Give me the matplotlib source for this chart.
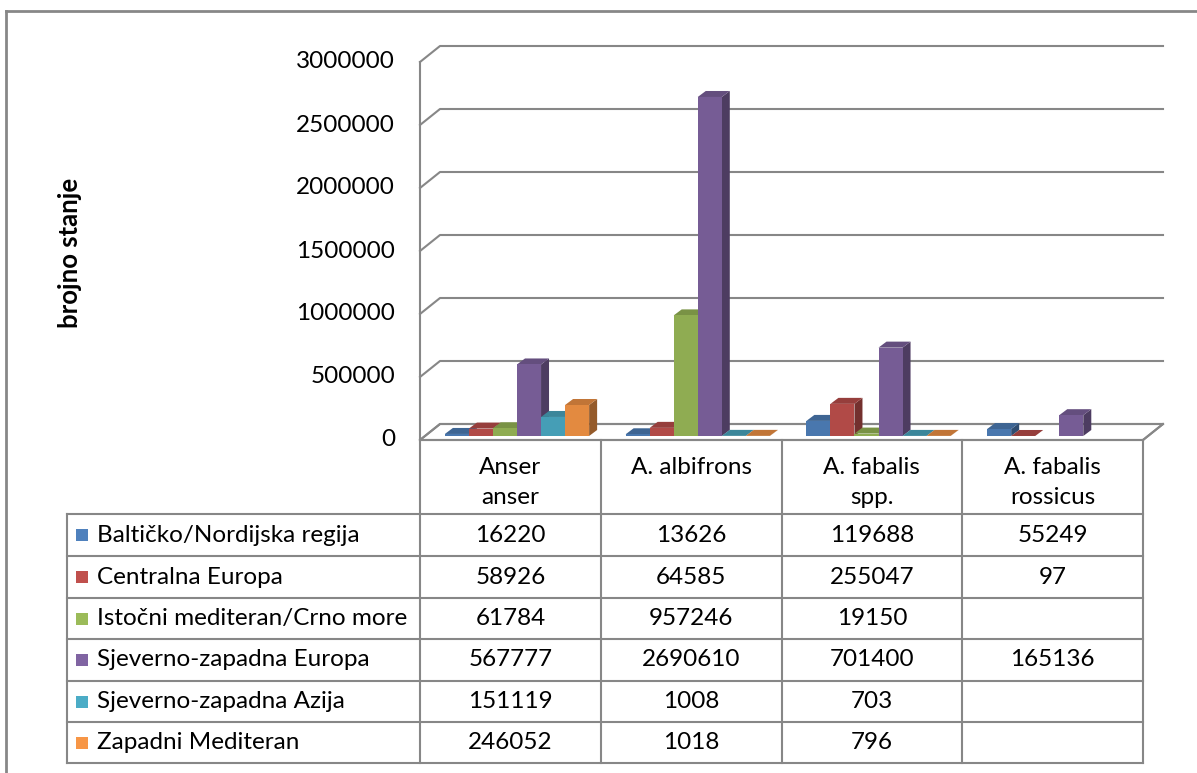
import matplotlib.pyplot as plt
from matplotlib.patches import Polygon, Rectangle
from matplotlib.lines import Line2D
from matplotlib.colors import to_rgb

plt.rcParams['font.family'] = ['Lato', 'DejaVu Sans']

# data (empty table cells = None)
categories = ['Anser\nanser', 'A. albifrons', 'A. fabalis\nspp.', 'A. fabalis\nrossicus']
series = ['Baltičko/Nordijska regija', 'Centralna Europa', 'Istočni mediteran/Crno more',
          'Sjeverno-zapadna Europa', 'Sjeverno-zapadna Azija', 'Zapadni Mediteran']
baltic = [16220, 13626, 119688, 55249]
central = [58926, 64585, 255047, 97]
east_med = [61784, 957246, 19150, None]
nw_europe = [567777, 2690610, 701400, 165136]
nw_asia = [151119, 1008, 703, None]
west_med = [246052, 1018, 796, None]
values = [baltic, central, east_med, nw_europe, nw_asia, west_med]
colors = ['#4F81BD', '#C0504D', '#9BBB59', '#8064A2', '#4BACC6', '#F79646']
yticks = [0, 500000, 1000000, 1500000, 2000000, 2500000, 3000000]

W, H = 1197, 773
fig = plt.figure(figsize=(W / 100, H / 100), dpi=100)
GRID = '#878787'
FS = 17.5

# front plane of the plot area in pixels (from top-left)
X0, X1, Y0, Y1 = 420, 1143, 440, 62
ax = fig.add_axes([X0 / W, 1 - Y0 / H, (X1 - X0) / W, (Y0 - Y1) / H])
ax.set_xlim(0, len(categories))
ax.set_ylim(0, 3000000)
ax.axis('off')

inv = fig.transFigure.inverted()


def pt(x, v, dx=0, dy=0):
    # data point plus pixel offset (dy upward) -> figure fraction
    px, py = ax.transData.transform((x, v))
    return inv.transform((px + dx, py + dy))


def pix(px, py):
    return (px / W, 1 - py / H)


def shade(c, f):
    r, g, b = to_rgb(c)
    return (r * f, g * f, b * f)


BACK = (20, 16)      # wall depth
BOFF = (5, 4)        # bar front offset from floor front
BDEP = (8, 6)        # bar depth
n = len(categories)

# floor
floor = Polygon([pt(0, 0), pt(n, 0), pt(n, 0, *BACK), pt(0, 0, *BACK)],
                closed=True, transform=fig.transFigure, facecolor='white',
                edgecolor=GRID, lw=1.5, clip_on=False, zorder=1)
ax.add_patch(floor)

# back wall gridlines + left wall diagonals + tick labels
for v in yticks:
    a, b, c = pt(0, v), pt(0, v, *BACK), pt(n, v, *BACK)
    ax.add_line(Line2D([a[0], b[0], c[0]], [a[1], b[1], c[1]], color=GRID, lw=1.5,
                       transform=fig.transFigure, clip_on=False, zorder=1))
    fig.text(a[0] - 25 / W, a[1], f'{v}', ha='right', va='center', fontsize=FS)
a, b = pt(0, 0), pt(0, 3000000)
ax.add_line(Line2D([a[0], b[0]], [a[1], b[1]], color=GRID, lw=1.5,
                   transform=fig.transFigure, clip_on=False, zorder=1))

# 3D bars
bw = 0.133
start = 0.11
for ci in range(n):
    for si, vals in enumerate(values):
        v = vals[ci]
        if v is None:
            continue
        xl = ci + start + si * bw
        xr = xl + bw
        col = colors[si]
        ox, oy = BOFF
        dx, dy = ox + BDEP[0], oy + BDEP[1]
        side = [pt(xr, 0, ox, oy), pt(xr, 0, dx, dy), pt(xr, v, dx, dy), pt(xr, v, ox, oy)]
        top = [pt(xl, v, ox, oy), pt(xr, v, ox, oy), pt(xr, v, dx, dy), pt(xl, v, dx, dy)]
        front = [pt(xl, 0, ox, oy), pt(xr, 0, ox, oy), pt(xr, v, ox, oy), pt(xl, v, ox, oy)]
        z = 3 + ci * 10 + si
        for poly, f in ((side, 0.6), (top, 0.78), (front, 0.92)):
            ax.add_patch(Polygon(poly, closed=True, transform=fig.transFigure,
                                 facecolor=shade(col, f), edgecolor='none',
                                 clip_on=False, zorder=z))

# right floor diagonal
a, b = pt(n, 0), pt(n, 0, *BACK)
ax.add_line(Line2D([a[0], b[0]], [a[1], b[1]], color=GRID, lw=1.5,
                   transform=fig.transFigure, clip_on=False, zorder=2))

# y axis title
fig.text(*pix(70, 253), 'brojno stanje', rotation=90, ha='center', va='center',
         fontsize=18.5, fontweight='bold')

# data table
row_y = [514, 556, 598, 639, 681, 722, 763]
TL = 67
col_x = [ax.transData.transform((c, 0))[0] for c in range(n + 1)]
top_y = 1 - Y0 / H
for x in col_x:
    fig.add_artist(Line2D([x / W, x / W], [top_y, 1 - row_y[-1] / H], color=GRID, lw=1.5))
for y in row_y:
    fig.add_artist(Line2D([TL / W, X1 / W], [1 - y / H, 1 - y / H], color=GRID, lw=1.5))
fig.add_artist(Line2D([TL / W, TL / W], [1 - row_y[0] / H, 1 - row_y[-1] / H],
                      color=GRID, lw=1.5))
fig.add_artist(Line2D([X0 / W, X1 / W], [top_y, top_y], color=GRID, lw=1.5))

for ci, cat in enumerate(categories):
    cx = (col_x[ci] + col_x[ci + 1]) / 2 / W
    fig.text(cx, 1 - 457 / H, cat, ha='center', va='top', fontsize=FS, linespacing=1.5)

for si, name in enumerate(series):
    cy = (row_y[si] + row_y[si + 1]) / 2
    fig.add_artist(Rectangle(pix(76, cy + 6), 12 / W, 12 / H, transform=fig.transFigure,
                             facecolor=colors[si], edgecolor='none'))
    fig.text(*pix(97, cy), name, ha='left', va='center', fontsize=FS)
    for ci in range(n):
        v = values[si][ci]
        if v is None:
            continue
        cx = (col_x[ci] + col_x[ci + 1]) / 2 / W
        fig.text(cx, 1 - cy / H, f'{v}', ha='center', va='center', fontsize=FS)

# outer chart frame (top and left visible)
fig.add_artist(Line2D([6 / W, 1], [1 - 11 / H, 1 - 11 / H], color=GRID, lw=2))
fig.add_artist(Line2D([6 / W, 6 / W], [0, 1 - 11 / H], color=GRID, lw=2))

fig.savefig('out.png', dpi=100, facecolor='white')
